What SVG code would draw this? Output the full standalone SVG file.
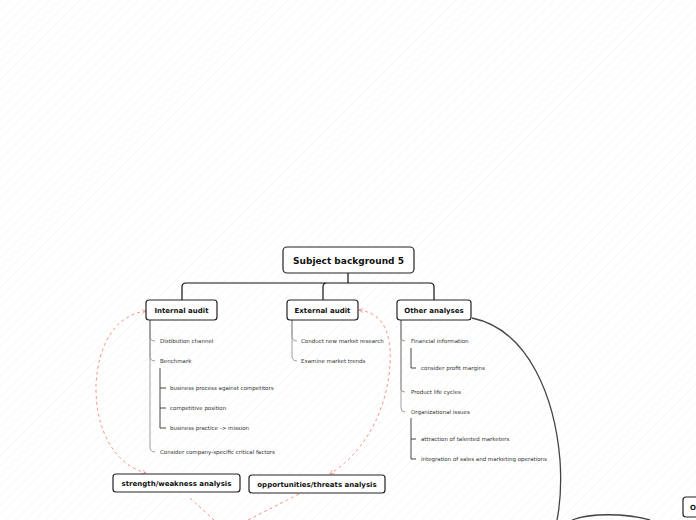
<svg xmlns="http://www.w3.org/2000/svg" width="696" height="520" viewBox="0 0 696 520">
<defs>
<pattern id="hatch" width="7" height="7" patternUnits="userSpaceOnUse" patternTransform="rotate(45)">
<line x1="0" y1="0" x2="0" y2="7" stroke="#efefef" stroke-width="1"/>
</pattern>
<marker id="arr" viewBox="0 0 8 8" refX="7" refY="4" markerWidth="6" markerHeight="6" orient="auto-start-reverse">
<path d="M1 1 L7 4 L1 7" fill="none" stroke="#f08a80" stroke-width="1"/>
</marker>
<style>
.node rect{fill:#fff;stroke:#222;stroke-width:1.2}
.nt{font-family:"DejaVu Sans",Verdana,sans-serif;font-weight:bold;fill:#111;text-anchor:middle;dominant-baseline:central}
.lt{font-family:"DejaVu Sans",Verdana,sans-serif;font-size:5.5px;fill:#333;dominant-baseline:central}
.tree{fill:none;stroke:#111;stroke-width:1.2}
.br{fill:none;stroke:#888;stroke-width:0.8}
.sub{fill:none;stroke:#333;stroke-width:0.9}
.rel{fill:none;stroke:#f08a80;stroke-width:0.9;stroke-dasharray:3 3}
.big{fill:none;stroke:#444;stroke-width:1.3}
</style>
</defs>
<rect width="696" height="520" fill="#fff"/>
<rect width="696" height="520" fill="url(#hatch)"/>

<g id="connectors">
<path class="tree" d="M348 273 V283 M186 283 H430 M182 300 V287 Q182 283 186 283 M323 300 V287 Q323 283 327 283 M434 300 V287 Q434 283 430 283"/>
<path class="br" d="M150 320 V336 Q150 341 155 341"/>
<path class="br" d="M150 320 V356 Q150 361 155 361"/>
<path class="br" d="M150 320 V447 Q150 452 155 452"/>
<path class="sub" d="M160 368 V428 H166 M160 388 H166 M160 408 H166"/>
<path class="br" d="M292 320 V336 Q292 341 297 341"/>
<path class="br" d="M292 320 V356 Q292 361 297 361"/>
<path class="br" d="M401 320 V338 Q401 341 405 341"/>
<path class="br" d="M401 320 V389 Q401 392 405 392"/>
<path class="br" d="M401 320 V408 Q401 412 405 412"/>
<path class="sub" d="M411 348 V368 H416"/>
<path class="sub" d="M411 418 V459 H416 M411 439 H416"/>
<path class="big" d="M472 318 C530 330 555 400 560 460 C562 490 559 510 557 520"/>
<path class="big" d="M572 520 C590 513 625 513 650 520"/>
<path class="rel" marker-start="url(#arr)" marker-end="url(#arr)" d="M146 311 C115 315 98 345 96 385 C95 430 115 465 146 473"/>
<path class="rel" marker-start="url(#arr)" marker-end="url(#arr)" d="M359 310 C388 314 393 340 389 375 C383 420 360 455 330 474"/>
<path class="rel" d="M190 498 L214 520"/>
<path class="rel" d="M299 494 L248 520"/>
</g>

<g id="root" class="node"><rect x="283" y="247" width="131" height="26" rx="4"/><text class="nt" x="348.5" y="260.5" font-size="9">Subject background 5</text></g>
<g id="internal" class="node"><rect x="146" y="300" width="71" height="20" rx="3"/><text class="nt" x="181.5" y="310.5" font-size="7">Internal audit</text></g>
<g id="external" class="node"><rect x="287" y="300" width="71" height="20" rx="3"/><text class="nt" x="322.5" y="310.5" font-size="7">External audit</text></g>
<g id="other" class="node"><rect x="397" y="300" width="74" height="20" rx="3"/><text class="nt" x="434" y="310.5" font-size="7">Other analyses</text></g>
<g id="sw" class="node"><rect x="113" y="474" width="127" height="18" rx="3"/><text class="nt" x="176.5" y="483.5" font-size="7">strength/weakness analysis</text></g>
<g id="ot" class="node"><rect x="249" y="475" width="136" height="18" rx="3"/><text class="nt" x="317" y="484.5" font-size="7">opportunities/threats analysis</text></g>
<g id="partial" class="node"><rect x="683" y="497" width="30" height="20" rx="3"/><text class="nt" x="693" y="507.5" font-size="7">O</text></g>

<g id="labels">
<text class="lt" x="160" y="341">Distibution channel</text>
<text class="lt" x="160" y="361">Benchmark</text>
<text class="lt" x="170" y="388">business process against competitors</text>
<text class="lt" x="170" y="408">competitive position</text>
<text class="lt" x="170" y="428">business practice -&gt; mission</text>
<text class="lt" x="160" y="452">Consider company-specific critical factors</text>
<text class="lt" x="301" y="341">Conduct new market research</text>
<text class="lt" x="301" y="361">Examine market trends</text>
<text class="lt" x="411" y="341">Financial information</text>
<text class="lt" x="421" y="368">consider profit margins</text>
<text class="lt" x="411" y="392">Product life cycles</text>
<text class="lt" x="411" y="412">Organizational issues</text>
<text class="lt" x="421" y="439">attraction of talented marketers</text>
<text class="lt" x="421" y="459">integration of sales and marketing operations</text>
</g>
</svg>
